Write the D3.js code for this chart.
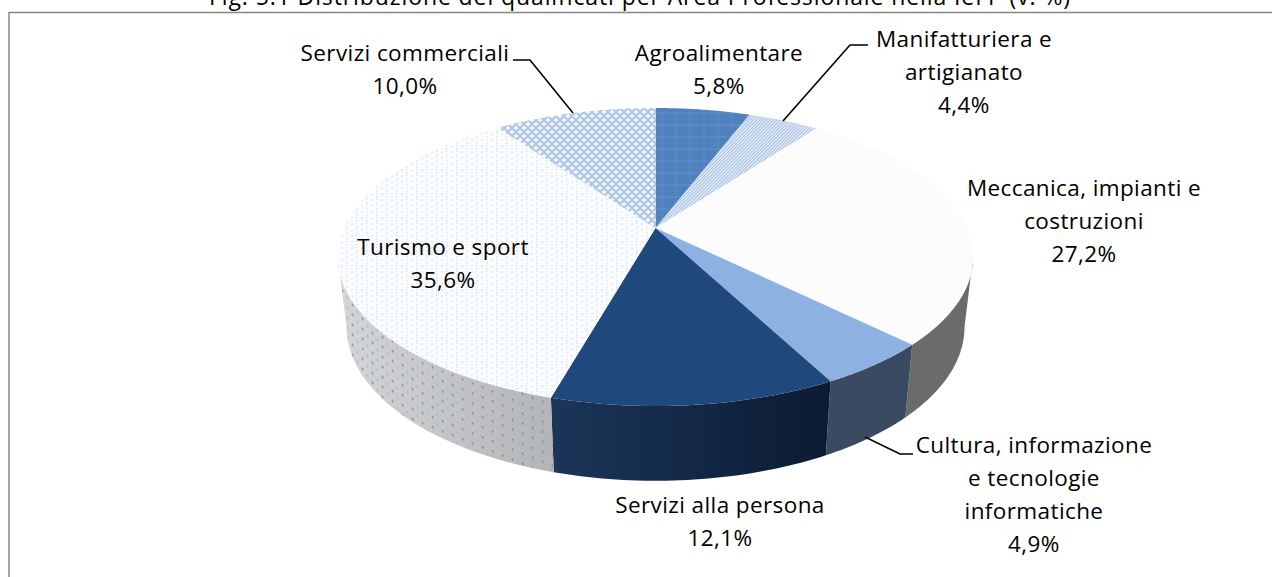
<!DOCTYPE html>
<html><head><meta charset="utf-8">
<script src="https://cdn.jsdelivr.net/npm/d3@7"></script>
<style>html,body{margin:0;padding:0;background:#fff;overflow:hidden}svg{display:block}text{font-family:"Open Sans",sans-serif;fill:#000}</style>
</head><body>
<svg id="c" width="1279" height="577"></svg>
<script>
const categories = ["Agroalimentare","Manifatturiera e artigianato","Meccanica, impianti e costruzioni","Cultura, informazione e tecnologie informatiche","Servizi alla persona","Turismo e sport","Servizi commerciali"];
const values = [5.8,4.4,27.2,4.9,12.1,35.6,10.0];
const valueLabels = ["5,8%","4,4%","27,2%","4,9%","12,1%","35,6%","10,0%"];
const labelLines = [["Agroalimentare"],["Manifatturiera e","artigianato"],["Meccanica, impianti e","costruzioni"],["Cultura, informazione","e tecnologie","informatiche"],["Servizi alla persona"],["Turismo e sport"],["Servizi commerciali"]];
const labelPos = [[719,54],[964,40],[1084,189],[1034,446],[720,506],[443,248],[405,54]];
const topFills = ["url(#pAgro)","url(#pMan)","#fcfcfc","#8db1e0","#1f497d","url(#pTur)","url(#pCom)"];
const wallFills = ["#3a5f8a","#8a9ab0","#6b6b6b","#3a4a60","url(#gPer)","url(#wTur)","#8a9ab0"];
const leaders = [[[513,60],[530,60],[573,113]],[[868,45],[850,45],[783,121]],[[913,454],[900,454],[865,437]]];
const title = "Fig. 5.1 Distribuzione dei qualificati per Area Professionale nella IeFP (v. %)";

const svg = d3.select("#c");
const defs = svg.append("defs");
function pat(id,w,h,bg,transform){
  const p = defs.append("pattern").attr("id",id).attr("patternUnits","userSpaceOnUse").attr("width",w).attr("height",h);
  if(transform) p.attr("patternTransform",transform);
  if(bg) p.append("rect").attr("width",w).attr("height",h).attr("fill",bg);
  return p;
}
const agro = pat("pAgro",14,12,"#4f81bd");
agro.append("path").attr("d","M0 5H14").attr("stroke","#6391ca").attr("stroke-width",1);
agro.append("path").attr("d","M4 0V12").attr("stroke","#5f8ec8").attr("stroke-width",1);
const man = pat("pMan",2.4,2.4,"#eef3fa","rotate(45)");
man.append("rect").attr("width",1.2).attr("height",2.4).attr("fill","#a4c0e2");
const com = pat("pCom",8,8,"#f3f7fb");
com.append("path").attr("d","M-1 -1L9 9M-1 7L1 9M7 -1L9 1M9 -1L-1 9M1 -1L-1 1M9 7L7 9").attr("stroke","#afc6e4").attr("stroke-width",2.2);
const tur = pat("pTur",10,6,"#fbfcfe");
tur.append("rect").attr("x",1).attr("y",1).attr("width",2).attr("height",2).attr("fill","#e6edf6");
tur.append("rect").attr("x",6).attr("y",4).attr("width",2).attr("height",2).attr("fill","#e6edf6");
tur.append("rect").attr("x",6).attr("y",1).attr("width",1).attr("height",1).attr("fill","#c4d5ea");

const gTurBase = defs.append("linearGradient").attr("id","gTur").attr("x1",0).attr("x2",1).attr("y1",0).attr("y2",0);
gTurBase.append("stop").attr("offset",0).attr("stop-color","#d6d6d6");
gTurBase.append("stop").attr("offset",1).attr("stop-color","#b4b4b4");
const gPer = defs.append("linearGradient").attr("id","gPer").attr("x1",0).attr("x2",1).attr("y1",0).attr("y2",0);
gPer.append("stop").attr("offset",0).attr("stop-color","#1b3659");
gPer.append("stop").attr("offset",1).attr("stop-color","#0b1b32");
const wTurDots = pat("wTur",10,10,null,"skewY(22)");
wTurDots.append("rect").attr("width",10).attr("height",10).attr("fill","none");
wTurDots.append("ellipse").attr("cx",2.5).attr("cy",2.5).attr("rx",.8).attr("ry",1.3).attr("fill","#5f88bb");
wTurDots.append("ellipse").attr("cx",7.5).attr("cy",7.5).attr("rx",1).attr("ry",1.5).attr("fill","#a9bdd6");

// Perspective projection of the pie: a unit circle tilted toward the viewer.
const tilt = 0.1946;
const depth = a => 1 + tilt*Math.cos(a);
const rimX = a => Math.sin(a)/depth(a);
const rimY = a => -Math.cos(a)/depth(a);
const xTop = d3.scaleLinear().domain([-1,1]).range([344,967]);
const yTop = d3.scaleLinear().domain([-1,1]).range([84.65,371.35]);
const xBot = d3.scaleLinear().domain([-1,1]).range([352.5,958.6]);
const yBot = d3.scaleLinear().domain([-1,1]).range([149,445]);
const pTop = a => [xTop(rimX(a)),yTop(rimY(a))];
const pBot = a => [xBot(rimX(a)),yBot(rimY(a))];
const center = [xTop(0),yTop(0)];
const line = d3.line();
const samples = (a0,a1) => d3.range(0,41).map(i => a0+(a1-a0)*i/40);

const arcs = d3.pie().sort(null).value(d=>d)(values);
const visL = Math.acos(-tilt), visR = 2*Math.PI-visL;

const walls = svg.append("g");
arcs.forEach((d,i)=>{
  const a0 = Math.max(d.startAngle,visL), a1 = Math.min(d.endAngle,visR);
  if(a1<=a0) return;
  const s = samples(a0,a1);
  const poly = s.map(pTop).concat(s.slice().reverse().map(pBot));
  if(i===5) walls.append("path").attr("d",line(poly)+"Z").attr("fill","url(#gTur)");
  walls.append("path").attr("d",line(poly)+"Z").attr("fill",wallFills[i]);
});
const tops = svg.append("g");
arcs.forEach((d,i)=>{
  const poly = [center].concat(samples(d.startAngle,d.endAngle).map(pTop));
  tops.append("path").attr("d",line(poly)+"Z").attr("fill",topFills[i]);
});

svg.append("path").attr("d","M9 12.5H1272M9 12V577").attr("fill","none").attr("stroke","#868686").attr("stroke-width",1.5);
svg.append("g").selectAll("path").data(leaders).join("path").attr("d",d=>line(d)).attr("fill","none").attr("stroke","#000").attr("stroke-width",1.6);

svg.append("text").attr("x",640).attr("y",5).attr("text-anchor","middle").attr("font-size",23).attr("letter-spacing",0.9).text(title);
const lh = 33;
categories.forEach((c,i)=>{
  const lines = labelLines[i].concat([valueLabels[i]]);
  const t = svg.append("text").attr("text-anchor","middle").attr("font-size",22.5).attr("letter-spacing",0.4);
  lines.forEach((s,j)=>t.append("tspan").attr("x",labelPos[i][0]).attr("y",labelPos[i][1]+7+j*lh).text(s));
});
</script>
</body></html>
